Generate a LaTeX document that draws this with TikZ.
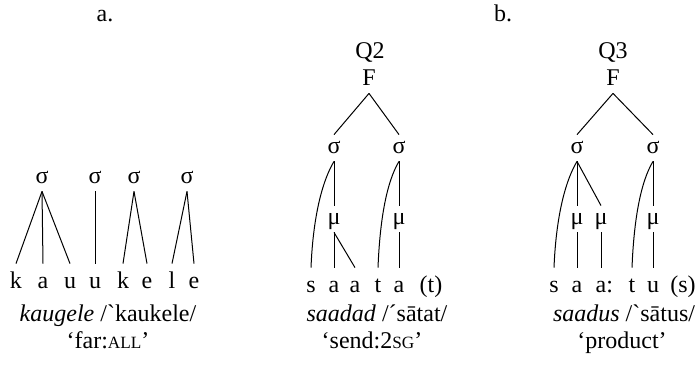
\documentclass[tikz,border=0pt]{standalone}
\usepackage{fontspec}
\setmainfont{Liberation Serif}
\newfontfamily\rawserif{Liberation Serif}
\usepackage{tikz}
\newcommand{\fakesc}[1]{{\fontsize{8.6}{10}\selectfont #1}}
\newcommand{\grv}{{\rawserif `}}
\tikzstyle{prosody} = [inner sep=0pt, text height=9pt, text depth=4pt, anchor=base]
\tikzstyle{segment} = [inner sep=0pt, text height=12pt, text depth=3pt, anchor=base]
\tikzstyle{gloss} = [inner sep=0pt, anchor=base]
\tikzstyle{assoc} = [line width=0.5pt]

\begin{document}
\begin{tikzpicture}[x=0.5pt, y=-0.5pt, font=\fontsize{12}{14}\selectfont]
\useasboundingbox (0,0) rectangle (700,370);

% Tree a: syllables
\node[gloss] (lbla) at (105,21) {a.};
\node[prosody] (as1) at (42,183) {σ};
\node[prosody] (as2) at (95,183) {σ};
\node[prosody] (as3) at (134,183) {σ};
\node[prosody] (as4) at (187,183) {σ};

% Tree a: segments
\node[segment] (a1) at (16,288) {k};
\node[segment] (a2) at (43,288) {a};
\node[segment] (a3) at (70,288) {u};
\node[segment] (a4) at (95,288) {u};
\node[segment] (a5) at (123,288) {k};
\node[segment] (a6) at (147,288) {e};
\node[segment] (a7) at (172,288) {l};
\node[segment] (a8) at (194,288) {e};

% Tree a: links
\draw[assoc] (as1.south) -- (a1.north);
\draw[assoc] (as1.south) -- (a2.north);
\draw[assoc] (as1.south) -- (a3.north);
\draw[assoc] (as2.south) -- (a4.north);
\draw[assoc] (as3.south) -- (a5.north);
\draw[assoc] (as3.south) -- (a6.north);
\draw[assoc] (as4.south) -- (a7.north);
\draw[assoc] (as4.south) -- (a8.north);

\node[gloss] (agloss) at (108,321) {\textit{kaugele} /\grv kaukele/};
\node[gloss] (atrans) at (108,348) {‘far:\fakesc{ALL}’};

% Tree b, left: Q2 foot
\node[gloss] (lblb) at (503,21) {b.};
\node[gloss] (q2) at (370,58) {Q2};
\node[prosody] (f2) at (369,85) {F};
\node[prosody] (bs1) at (334,153) {σ};
\node[prosody] (bs2) at (399,153) {σ};
\node[prosody] (bm1) at (334,224) {μ};
\node[prosody] (bm2) at (399,224) {μ};

\node[segment] (b1) at (311,292) {s};
\node[segment] (b2) at (334,292) {a};
\node[segment] (b3) at (355,292) {a};
\node[segment] (b4) at (378,292) {t};
\node[segment] (b5) at (399,292) {a};
\node[segment] (b6) at (431,292) {(t)};

\draw[assoc] (f2.south) -- (bs1.north);
\draw[assoc] (f2.south) -- (bs2.north);
\draw[assoc] (bs1.south) .. controls +(-12,20) and +(2,-50) .. (b1.north);
\draw[assoc] (bs1.south) -- (bm1.north);
\draw[assoc] (bm1.south) -- (b2.north);
\draw[assoc] (bm1.south) -- (b3.north);
\draw[assoc] (bs2.south) .. controls +(-12,20) and +(2,-50) .. (b4.north);
\draw[assoc] (bs2.south) -- (bm2.north);
\draw[assoc] (bm2.south) -- (b5.north);

\node[gloss] (bgloss) at (377,321) {\textit{saadad} /´sātat/};
\node[gloss] (btrans) at (372,348) {‘send:2\fakesc{SG}’};

% Tree b, right: Q3 foot
\node[gloss] (q3) at (613,58) {Q3};
\node[prosody] (f3) at (613,85) {F};
\node[prosody] (cs1) at (577,153) {σ};
\node[prosody] (cs2) at (653,153) {σ};
\node[prosody] (cm1) at (577,224) {μ};
\node[prosody] (cm2) at (601,224) {μ};
\node[prosody] (cm3) at (653,224) {μ};

\node[segment] (c1) at (554,292) {s};
\node[segment] (c2) at (577,292) {a};
\node[segment] (c3) at (601,292) {a\rlap{:}};
\node[segment] (c4) at (632,292) {t};
\node[segment] (c5) at (653,292) {u};
\node[segment] (c6) at (683,292) {(s)};

\draw[assoc] (f3.south) -- (cs1.north);
\draw[assoc] (f3.south) -- (cs2.north);
\draw[assoc] (cs1.south) .. controls +(-12,20) and +(2,-50) .. (c1.north);
\draw[assoc] (cs1.south) -- (cm1.north);
\draw[assoc] (cs1.south) -- (cm2.north);
\draw[assoc] (cm1.south) -- (c2.north);
\draw[assoc] (cm2.south) -- (c3.north);
\draw[assoc] (cs2.south) .. controls +(-12,20) and +(2,-50) .. (c4.north);
\draw[assoc] (cs2.south) -- (cm3.north);
\draw[assoc] (cm3.south) -- (c5.north);

\node[gloss] (cgloss) at (624,321) {\textit{saadus} /\grv sātus/};
\node[gloss] (ctrans) at (622,348) {‘product’};
\end{tikzpicture}
\end{document}
